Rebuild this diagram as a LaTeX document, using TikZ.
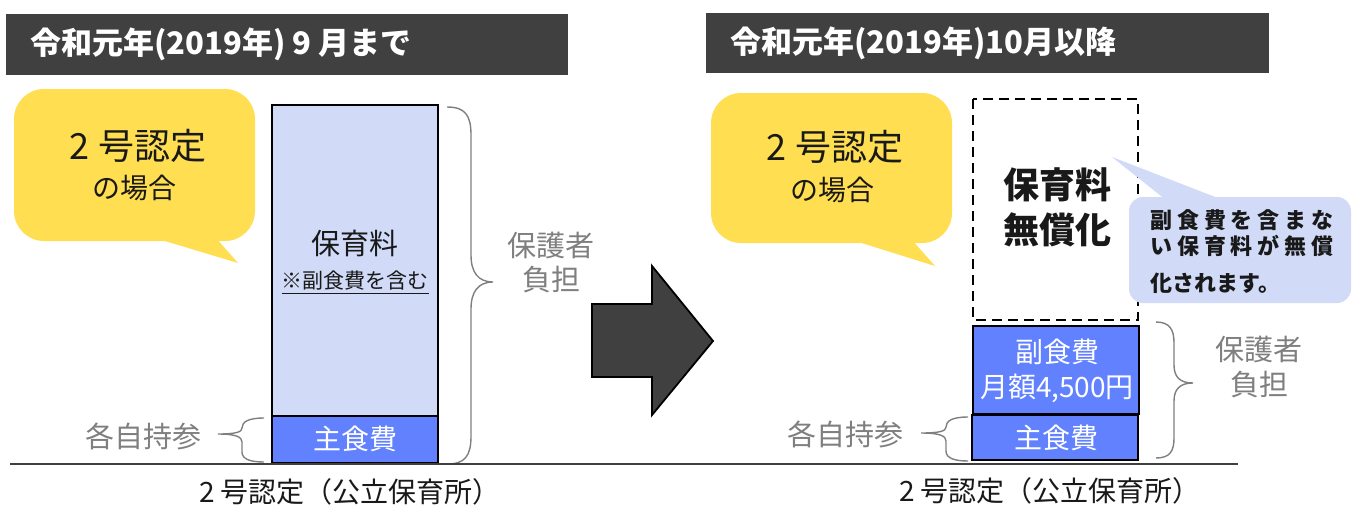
\documentclass[tikz,border=0pt]{standalone}
\usepackage{fontspec}
\setmainfont{Noto Sans CJK JP}
\newfontfamily\callfont{Noto Sans CJK JP}[LetterSpace=22]
\usepackage{xcolor}

\definecolor{barGray}{HTML}{404040}
\definecolor{balloonYellow}{HTML}{FFDE52}
\definecolor{feeLight}{HTML}{D1DBF7}
\definecolor{foodBlue}{HTML}{6181FF}
\definecolor{noteGray}{HTML}{7F7F7F}

\begin{document}
\begin{tikzpicture}[x=0.5pt,y=-0.5pt,
  titletext/.style={anchor=west,inner sep=0,text=white,font=\bfseries\fontsize{15.5}{18}\selectfont},
  bigtext/.style={inner sep=0,text=black!90,font=\fontsize{18}{20}\selectfont},
  midtext/.style={inner sep=0,text=black!90,font=\fontsize{14}{16}\selectfont},
  graytext/.style={inner sep=0,text=noteGray,font=\fontsize{14.5}{16}\selectfont},
  whitetext/.style={inner sep=0,text=white,font=\fontsize{14}{16}\selectfont},
  calltext/.style={anchor=west,inner sep=0,text=black!90,font=\callfont\bfseries\fontsize{11}{13}\selectfont},
  boxline/.style={draw=black,line width=0.9pt},
  bracegray/.style={draw=noteGray,line width=0.7pt}]
\useasboundingbox (0,0) rectangle (1352,505);

% title bars
\fill[barGray] (6,14) rectangle (568,75);
\node[titletext] (titleA) at (30,44) {令和元年(2019年) 9 月まで};
\fill[barGray] (706,13) rectangle (1269,73);
\node[titletext] (titleB) at (730,43) {令和元年(2019年)10月以降};

% yellow balloons
\fill[balloonYellow,rounded corners=15pt] (14,89) rectangle (255,241);
\fill[balloonYellow] (155,238) -- (238,263) -- (216,238) -- cycle;
\node[bigtext] (caseA) at (138,146) {2 号認定};
\node[midtext] (caseAsub) at (134,188) {の場合};

\fill[balloonYellow,rounded corners=15pt] (711,93) rectangle (952,243);
\fill[balloonYellow] (852,240) -- (935,266) -- (912,240) -- cycle;
\node[bigtext] (caseB) at (835,147) {2 号認定};
\node[midtext] (caseBsub) at (832,190) {の場合};

% before: fee box
\filldraw[fill=feeLight,boxline] (272,105) rectangle (438,416);
\filldraw[fill=foodBlue,boxline] (272,416) rectangle (438,463);
\node[midtext,font=\fontsize{14.5}{16}\selectfont] (feeA) at (355,243) {保育料};
\node[midtext,font=\fontsize{10.5}{12}\selectfont] (noteA) at (355,283) {\underline{※副食費を含む}};
\node[whitetext] (riceA) at (355,439) {主食費};

\draw[bracegray] (447,107) .. controls (465,107) and (471,115) .. (471,135) -- (471,255)
  .. controls (471,272) and (478,282) .. (493,282) .. controls (478,282) and (471,292) .. (471,309)
  -- (471,436) .. controls (471,456) and (465,464) .. (447,464);
\node[graytext] (payA1) at (551,245) {保護者};
\node[graytext] (payA2) at (551,280) {負担};

\draw[bracegray] (264,418) .. controls (248,418) and (242,422) .. (242,428)
  .. controls (242,432) and (236,434) .. (218,434) .. controls (236,434) and (242,437) .. (242,442)
  -- (242,452) .. controls (242,459) and (250,462) .. (264,462);
\node[graytext] (ownA) at (143,436) {各自持参};

% arrow
\filldraw[fill=barGray,boxline] (592,304) -- (652,304) -- (652,266) -- (713,341)
  -- (652,415) -- (652,377) -- (592,377) -- cycle;

% after: free fee
\draw[line width=1.4pt,dash pattern=on 5pt off 3pt] (973,99) rectangle (1138,320);
\node[bigtext,font=\bfseries\fontsize{18}{20}\selectfont] (freeB1) at (1057,185) {保育料};
\node[bigtext,font=\bfseries\fontsize{18}{20}\selectfont] (freeB2) at (1057,230) {無償化};

\fill[feeLight,rounded corners=7pt] (1129,197) rectangle (1351,303);
\fill[feeLight] (1112,157) -- (1223,200) -- (1166,200) -- cycle;
\node[calltext] (callB1) at (1150,220) {副食費を含まな};
\node[calltext] (callB2) at (1150,246) {い保育料が無償};
\node[calltext,font=\bfseries\fontsize{11}{13}\selectfont] (callB3) at (1150,283) {化されます。};

% after: food boxes
\filldraw[fill=foodBlue,boxline] (973,326) rectangle (1139,414);
\filldraw[fill=foodBlue,boxline] (972,415) rectangle (1138,460);
\node[whitetext] (sideB1) at (1057,352) {副食費};
\node[whitetext] (sideB2) at (1057,388) {月額4,500円};
\node[whitetext] (riceB) at (1056,438) {主食費};

\draw[bracegray] (1156,322) .. controls (1170,322) and (1174,330) .. (1174,343) -- (1174,365)
  .. controls (1174,377) and (1180,383) .. (1193,383) .. controls (1180,383) and (1174,389) .. (1174,401)
  -- (1174,438) .. controls (1174,451) and (1170,458) .. (1156,458);
\node[graytext] (payB1) at (1259,349) {保護者};
\node[graytext] (payB2) at (1259,385) {負担};

\draw[bracegray] (968,417) .. controls (952,417) and (946,421) .. (946,427)
  .. controls (946,431) and (940,433) .. (921,433) .. controls (940,433) and (946,436) .. (946,441)
  -- (946,451) .. controls (946,458) and (954,461) .. (968,461);
\node[graytext] (ownB) at (845,434) {各自持参};

% ground line and captions
\draw[line width=0.8pt,black!75] (10,464) -- (1238,464);
\node[midtext] (typeA) at (350,492) {2 号認定（公立保育所）};
\node[midtext] (typeB) at (1050,491) {2 号認定（公立保育所）};
\end{tikzpicture}
\end{document}
